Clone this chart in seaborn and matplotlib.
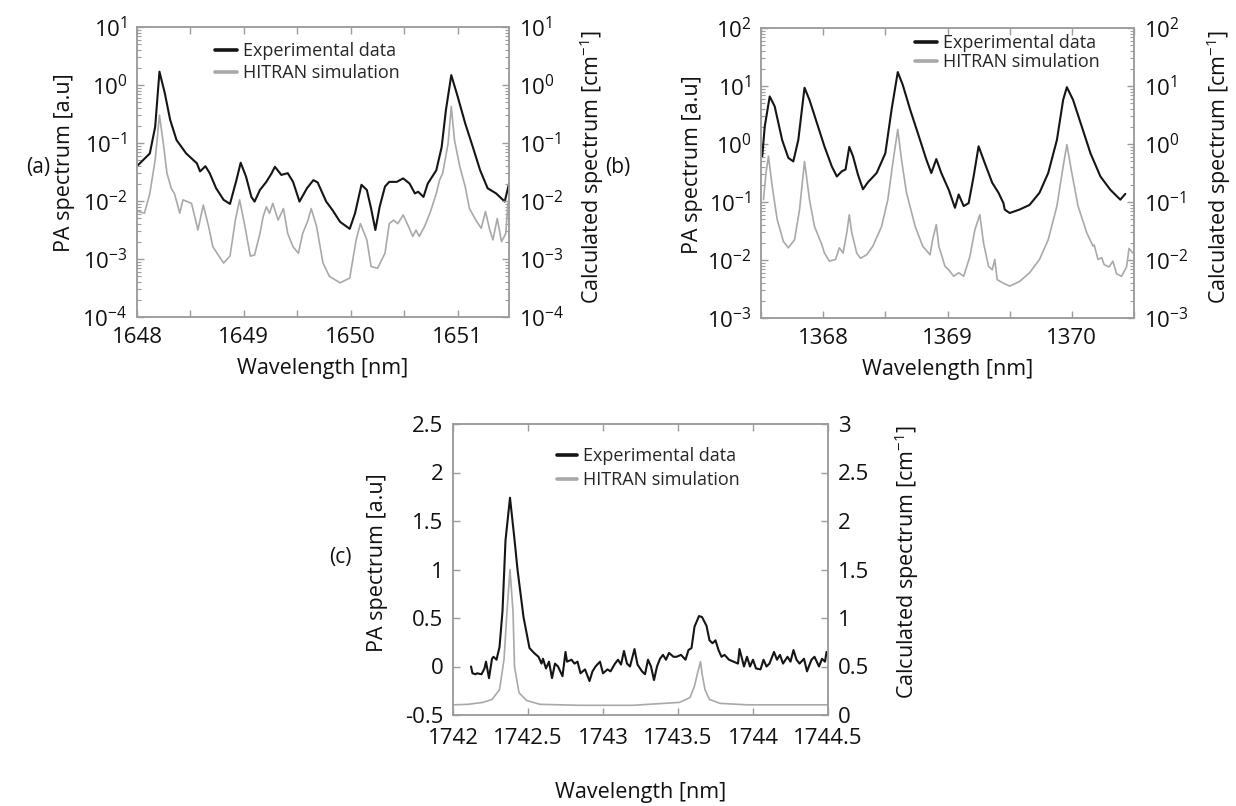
import numpy as np
import matplotlib
matplotlib.use("Agg")
import matplotlib.pyplot as plt
import matplotlib.ticker as mticker
from matplotlib.lines import Line2D
import seaborn as sns

# ---- panel (a): wavelength [nm] and log10 of the spectrum
a_exp_wl = [1648.01, 1648.12, 1648.17, 1648.21, 1648.26, 1648.31, 1648.37, 1648.46, 1648.56, 1648.59,
            1648.64, 1648.68, 1648.74, 1648.81, 1648.87, 1648.93, 1648.97, 1649.02, 1649.07, 1649.10,
            1649.15, 1649.21, 1649.26, 1649.29, 1649.35, 1649.41, 1649.46, 1649.52, 1649.59, 1649.65,
            1649.69, 1649.77, 1649.83, 1649.90, 1649.96, 1649.99, 1650.04, 1650.10, 1650.15, 1650.19,
            1650.23, 1650.27, 1650.32, 1650.36, 1650.43, 1650.49, 1650.55, 1650.60, 1650.63, 1650.68,
            1650.72, 1650.80, 1650.85, 1650.89, 1650.94, 1651.00, 1651.07, 1651.14, 1651.21, 1651.28,
            1651.36, 1651.44, 1651.48]
a_exp_log = [-1.38, -1.18, -0.72, 0.23, -0.14, -0.60, -0.95, -1.18, -1.35, -1.49,
             -1.40, -1.52, -1.78, -1.98, -2.05, -1.64, -1.34, -1.58, -1.93, -2.01,
             -1.81, -1.67, -1.52, -1.41, -1.55, -1.52, -1.67, -2.01, -1.78, -1.64,
             -1.68, -2.01, -2.16, -2.36, -2.44, -2.48, -2.21, -1.72, -1.81, -2.13,
             -2.50, -2.10, -1.75, -1.67, -1.67, -1.61, -1.70, -1.87, -1.84, -1.93,
             -1.70, -1.47, -1.07, -0.43, 0.17, -0.20, -0.66, -1.06, -1.47, -1.78,
             -1.87, -2.01, -1.70]
a_sim_wl = [1648.01, 1648.07, 1648.12, 1648.17, 1648.21, 1648.25, 1648.28, 1648.32, 1648.35, 1648.40,
            1648.43, 1648.47, 1648.51, 1648.54, 1648.57, 1648.62, 1648.67, 1648.71, 1648.81, 1648.87,
            1648.92, 1648.96,
            1649.01, 1649.06, 1649.10, 1649.15, 1649.18, 1649.21, 1649.24, 1649.27, 1649.32, 1649.37,
            1649.41, 1649.46, 1649.51, 1649.55, 1649.60, 1649.63, 1649.68, 1649.74, 1649.80, 1649.90,
            1649.99,
            1650.05, 1650.09, 1650.15, 1650.19, 1650.25, 1650.32, 1650.36, 1650.40, 1650.44, 1650.49,
            1650.54, 1650.58, 1650.61, 1650.64, 1650.69, 1650.74, 1650.80, 1650.83, 1650.86, 1650.91,
            1650.94, 1650.97,
            1651.02, 1651.07, 1651.11, 1651.17, 1651.22, 1651.26, 1651.30, 1651.33, 1651.37, 1651.41,
            1651.45, 1651.47]
a_sim_log = [-2.18, -2.21, -1.87, -1.29, -0.52, -1.06, -1.52, -1.78, -1.87, -2.21,
             -1.98, -2.01, -2.04, -2.27, -2.50, -2.07, -2.44, -2.79, -3.07, -2.95,
             -2.33, -1.98,
             -2.44, -2.95, -2.93, -2.56, -2.27, -2.10, -2.21, -2.04, -2.33, -2.13,
             -2.56, -2.79, -2.90, -2.56, -2.33, -2.13, -2.44, -3.07, -3.30, -3.41,
             -3.33,
             -2.67, -2.39, -2.67, -3.13, -3.16, -2.90, -2.39, -2.33, -2.39, -2.24,
             -2.44, -2.61, -2.50, -2.61, -2.44, -2.21, -1.87, -1.64, -1.52, -1.01,
             -0.37, -0.95,
             -1.41, -1.75, -2.13, -2.33, -2.47, -2.18, -2.50, -2.67, -2.30, -2.70,
             -2.56, -2.04]

# ---- panel (b)
b_exp_wl = [1367.51, 1367.53, 1367.57, 1367.61, 1367.67, 1367.72, 1367.76, 1367.80, 1367.85, 1367.89,
            1367.95,
            1368.01, 1368.07, 1368.11, 1368.15, 1368.18, 1368.21, 1368.24, 1368.28, 1368.32, 1368.36,
            1368.43, 1368.50, 1368.55, 1368.60, 1368.64, 1368.70, 1368.77, 1368.83, 1368.87, 1368.91,
            1368.95,
            1369.01, 1369.06, 1369.09, 1369.13, 1369.17, 1369.21, 1369.25, 1369.30, 1369.36, 1369.41,
            1369.45, 1369.46, 1369.50, 1369.58, 1369.66, 1369.74, 1369.81, 1369.88, 1369.93, 1369.96,
            1370.01, 1370.08, 1370.15, 1370.23, 1370.31, 1370.39, 1370.43]
b_exp_log = [-0.21, 0.30, 0.82, 0.65, 0.07, -0.24, -0.30, 0.07, 0.97, 0.76,
             0.36,
             -0.04, -0.39, -0.56, -0.47, -0.44, -0.05, -0.21, -0.53, -0.78, -0.66,
             -0.50, -0.16, 0.59, 1.24, 1.02, 0.59, 0.13, -0.27, -0.50, -0.26,
             -0.50,
             -0.79, -1.10, -0.87, -1.07, -1.02, -0.56, -0.04, -0.33, -0.67, -0.84,
             -1.02, -1.13, -1.19, -1.13, -1.05, -0.84, -0.50, 0.07, 0.76, 0.98,
             0.76, 0.30, -0.16, -0.56, -0.79, -0.96, -0.86]
b_sim_wl = [1367.52, 1367.54, 1367.56, 1367.59, 1367.63, 1367.68, 1367.72, 1367.77, 1367.81, 1367.85,
            1367.89, 1367.93, 1367.99,
            1368.01, 1368.05, 1368.10, 1368.13, 1368.16, 1368.19, 1368.21, 1368.23, 1368.27, 1368.30,
            1368.35, 1368.40, 1368.47, 1368.52, 1368.56, 1368.60, 1368.63, 1368.67, 1368.74, 1368.80,
            1368.86, 1368.88, 1368.91, 1368.93, 1368.98,
            1369.01, 1369.05, 1369.09, 1369.13, 1369.18, 1369.22, 1369.26, 1369.29, 1369.33, 1369.36,
            1369.38, 1369.40, 1369.45, 1369.50, 1369.58, 1369.66, 1369.74, 1369.81, 1369.88, 1369.93,
            1369.96,
            1370.00, 1370.05, 1370.12, 1370.17, 1370.18, 1370.21, 1370.24, 1370.26, 1370.30, 1370.33,
            1370.36, 1370.40, 1370.44, 1370.46, 1370.49]
b_sim_log = [-0.96, -0.50, -0.21, -0.73, -1.30, -1.68, -1.79, -1.65, -1.13, -0.30,
             -0.96, -1.42, -1.74,
             -1.88, -2.02, -1.99, -1.79, -1.88, -1.53, -1.22, -1.53, -1.88, -1.97,
             -1.91, -1.76, -1.42, -0.96, -0.33, 0.25, -0.27, -0.84, -1.42, -1.76,
             -1.91, -1.65, -1.39, -1.76, -2.11,
             -2.17, -2.28, -2.22, -2.28, -1.94, -1.48, -1.22, -1.71, -2.11, -2.17,
             -1.99, -2.34, -2.40, -2.45, -2.37, -2.22, -1.99, -1.65, -1.07, -0.39,
             -0.01,
             -0.50, -1.07, -1.53, -1.76, -1.74, -1.99, -1.96, -2.08, -2.12, -2.02,
             -2.24, -2.28, -2.12, -1.80, -1.88]

# ---- panel (c): linear scales
c_exp_wl = [1742.12, 1742.13, 1742.15, 1742.16, 1742.19, 1742.21, 1742.22, 1742.24, 1742.26, 1742.27,
            1742.29, 1742.31, 1742.33, 1742.35, 1742.38, 1742.41, 1742.43, 1742.47, 1742.51, 1742.54,
            1742.57, 1742.59, 1742.60, 1742.62, 1742.64, 1742.66, 1742.68, 1742.70, 1742.73, 1742.75,
            1742.76, 1742.79, 1742.81, 1742.83, 1742.85, 1742.88, 1742.91, 1742.93, 1742.95, 1742.98,
            1743.00, 1743.03, 1743.05, 1743.08, 1743.10, 1743.12, 1743.14, 1743.16, 1743.18, 1743.21,
            1743.23, 1743.26, 1743.28, 1743.30, 1743.32, 1743.34, 1743.36, 1743.38, 1743.40, 1743.42,
            1743.44, 1743.47, 1743.49, 1743.52, 1743.55, 1743.57, 1743.59, 1743.61, 1743.64, 1743.66,
            1743.69, 1743.71, 1743.73, 1743.75, 1743.77, 1743.79, 1743.81, 1743.84, 1743.87, 1743.90,
            1743.91, 1743.94, 1743.96, 1743.98,
            1744.00, 1744.02, 1744.05, 1744.07, 1744.09, 1744.11, 1744.14, 1744.16, 1744.18, 1744.20,
            1744.23, 1744.25, 1744.27, 1744.29, 1744.31, 1744.34, 1744.36, 1744.39, 1744.41, 1744.44,
            1744.46, 1744.48, 1744.49]
c_exp_val = [0.00, -0.07, -0.08, -0.07, -0.08, -0.02, 0.05, -0.12, 0.08, 0.10,
             0.07, 0.20, 0.57, 1.30, 1.74, 1.31, 1.00, 0.51, 0.19, 0.14,
             0.10, 0.03, 0.08, -0.02, 0.05, -0.12, 0.03, 0.00, -0.10, 0.15,
             0.05, 0.07, 0.03, 0.05, -0.07, -0.03, -0.15, -0.05, 0.00, 0.05,
             -0.07, -0.03, -0.05, 0.03, 0.07, 0.02, 0.16, 0.03, 0.00, 0.18,
             0.02, -0.05, -0.08, 0.07, 0.00, -0.14, 0.00, 0.08, 0.12, 0.07,
             0.14, 0.10, 0.10, 0.12, 0.07, 0.17, 0.19, 0.41, 0.52, 0.51,
             0.42, 0.27, 0.24, 0.27, 0.17, 0.10, 0.12, 0.07, 0.05, 0.03,
             0.18, 0.00, 0.10, 0.00,
             0.07, -0.02, -0.03, 0.07, 0.00, 0.03, 0.15, 0.07, 0.12, 0.03,
             0.10, 0.05, 0.17, 0.07, 0.03, 0.08, -0.05, 0.07, 0.10, 0.00,
             0.08, 0.05, 0.15]
c_sim_wl = [1742.00, 1742.10, 1742.20, 1742.26, 1742.31, 1742.34, 1742.36, 1742.38, 1742.40, 1742.41,
            1742.44, 1742.49, 1742.58, 1742.84, 1743.20, 1743.51, 1743.58, 1743.61, 1743.63, 1743.65,
            1743.66, 1743.68, 1743.71, 1743.78, 1743.96, 1744.50]
c_sim_val = [0.105, 0.11, 0.13, 0.16, 0.26, 0.57, 1.07, 1.50, 1.07, 0.50,
             0.23, 0.15, 0.11, 0.10, 0.10, 0.13, 0.18, 0.30, 0.43, 0.55,
             0.43, 0.26, 0.16, 0.12, 0.105, 0.105]

legend_labels = ["Experimental data", "HITRAN simulation"]

BLACK = "#151515"
GRAY = "#a9a9a9"
SPINE = "#9c9c9c"

sns.set_style("ticks")
plt.rcParams["font.family"] = ["Open Sans", "DejaVu Sans"]
plt.rcParams["mathtext.fontset"] = "custom"
plt.rcParams["mathtext.rm"] = "Open Sans"
plt.rcParams["mathtext.it"] = "Open Sans:italic"
plt.rcParams["mathtext.bf"] = "Open Sans:bold"

fig = plt.figure(figsize=(12.36, 8.06), dpi=100)
W, H = 1236.0, 806.0


def box(l, t, r, b):
    return [l / W, 1 - b / H, (r - l) / W, (b - t) / H]


def dress(ax, ax2, xpad):
    for axis in (ax, ax2):
        for sp in axis.spines.values():
            sp.set_color(SPINE)
            sp.set_linewidth(1.1)
        axis.tick_params(which="both", direction="in", color=SPINE, labelsize=16,
                         labelcolor="#111111", pad=7)
        axis.tick_params(which="major", length=5, width=1.0)
        axis.tick_params(which="minor", length=3, width=0.8)
    ax.tick_params(axis="x", which="both", top=True, bottom=True, pad=xpad)
    ax.tick_params(axis="y", which="both", right=False)
    ax2.tick_params(axis="y", which="both", left=False)


def draw(ax, ax2, ex, ey, sx, sy):
    sns.lineplot(x=ex, y=ey, ax=ax, color=BLACK, lw=1.5, estimator=None, sort=False)
    sns.lineplot(x=sx, y=sy, ax=ax2, color=GRAY, lw=1.2, estimator=None, sort=False)


def add_legend(x, y, spacing, hlen):
    handles = [Line2D([], [], color=BLACK, lw=2.6), Line2D([], [], color=GRAY, lw=2.6)]
    fig.legend(handles, legend_labels, loc="upper left", bbox_to_anchor=(x / W, 1 - y / H),
               frameon=False, fontsize=13, borderpad=0, borderaxespad=0,
               handlelength=hlen, handletextpad=0.32, labelspacing=spacing)


label_kw = dict(fontsize=15.5, color="#111111")

# ---------------- (a)
ax_a = fig.add_axes(box(137, 27, 509, 317))
ax_a2 = ax_a.twinx()
draw(ax_a, ax_a2, a_exp_wl, np.power(10.0, a_exp_log), a_sim_wl, np.power(10.0, a_sim_log))
for axis in (ax_a, ax_a2):
    axis.set_yscale("log")
    axis.set_ylim(1e-4, 1e1)
    axis.yaxis.set_major_locator(mticker.LogLocator(base=10, numticks=10))
    axis.yaxis.set_minor_locator(mticker.LogLocator(base=10, subs=np.arange(2, 10), numticks=20))
ax_a.set_xlim(1648, 1651.48)
ax_a.xaxis.set_major_locator(mticker.MultipleLocator(1))
ax_a.xaxis.set_minor_locator(mticker.MultipleLocator(0.5))
ax_a.xaxis.set_major_formatter(mticker.FormatStrFormatter("%d"))
dress(ax_a, ax_a2, 7)
ax_a.tick_params(axis="x", which="minor", length=5, width=1.0)
ax_a.set_xlabel("Wavelength [nm]", **label_kw)
ax_a.xaxis.set_label_coords(0.5, -0.14)
ax_a.set_ylabel("PA spectrum [a.u]", **label_kw)
ax_a.yaxis.set_label_coords(-0.167, 0.534)
ax_a2.set_ylabel("Calculated spectrum [cm$^{-1}$]", **label_kw)
ax_a2.yaxis.set_label_coords(1.183, 0.517)
add_legend(215, 42, 0.22, 1.22)
fig.text(38 / W, 1 - 167 / H, "(a)", ha="center", va="center", fontsize=15, color="#111111")

# ---------------- (b)
ax_b = fig.add_axes(box(761, 28, 1134, 318))
ax_b2 = ax_b.twinx()
draw(ax_b, ax_b2, b_exp_wl, np.power(10.0, b_exp_log), b_sim_wl, np.power(10.0, b_sim_log))
for axis in (ax_b, ax_b2):
    axis.set_yscale("log")
    axis.set_ylim(1e-3, 1e2)
    axis.yaxis.set_major_locator(mticker.LogLocator(base=10, numticks=10))
    axis.yaxis.set_minor_locator(mticker.LogLocator(base=10, subs=np.arange(2, 10), numticks=20))
ax_b.set_xlim(1367.5, 1370.5)
ax_b.xaxis.set_major_locator(mticker.MultipleLocator(1))
ax_b.xaxis.set_minor_locator(mticker.MultipleLocator(0.5))
ax_b.xaxis.set_major_formatter(mticker.FormatStrFormatter("%d"))
dress(ax_b, ax_b2, 7)
ax_b.tick_params(axis="x", which="minor", length=5, width=1.0)
ax_b.set_xlabel("Wavelength [nm]", **label_kw)
ax_b.xaxis.set_label_coords(0.5, -0.14)
ax_b.set_ylabel("PA spectrum [a.u]", **label_kw)
ax_b.yaxis.set_label_coords(-0.155, 0.53)
ax_b2.set_ylabel("Calculated spectrum [cm$^{-1}$]", **label_kw)
ax_b2.yaxis.set_label_coords(1.19, 0.52)
add_legend(915, 34, 0.06, 1.22)
fig.text(618 / W, 1 - 167 / H, "(b)", ha="center", va="center", fontsize=15, color="#111111")

# ---------------- (c)
ax_c = fig.add_axes(box(453, 424, 828, 715))
ax_c2 = ax_c.twinx()
draw(ax_c, ax_c2, c_exp_wl, c_exp_val, c_sim_wl, c_sim_val)
ax_c.set_ylim(-0.5, 2.5)
ax_c2.set_ylim(0, 3)
ax_c.yaxis.set_major_locator(mticker.MultipleLocator(0.5))
ax_c2.yaxis.set_major_locator(mticker.MultipleLocator(0.5))
ax_c.set_xlim(1742, 1744.5)
ax_c.xaxis.set_major_locator(mticker.MultipleLocator(0.5))
fmt = mticker.FuncFormatter(lambda v, p: "%g" % v)
ax_c.xaxis.set_major_formatter(fmt)
ax_c.yaxis.set_major_formatter(fmt)
ax_c2.yaxis.set_major_formatter(fmt)
dress(ax_c, ax_c2, 9)
ax_c.set_xlabel("Wavelength [nm]", **label_kw)
ax_c.xaxis.set_label_coords(0.5, -0.23)
ax_c.set_ylabel("PA spectrum [a.u]", **label_kw)
ax_c.yaxis.set_label_coords(-0.173, 0.522)
ax_c2.set_ylabel("Calculated spectrum [cm$^{-1}$]", **label_kw)
ax_c2.yaxis.set_label_coords(1.171, 0.526)
add_legend(557, 447, 0.34, 1.1)
fig.text(340 / W, 1 - 557 / H, "(c)", ha="center", va="center", fontsize=15, color="#111111")

fig.savefig("out.png", dpi=100, facecolor="white")
